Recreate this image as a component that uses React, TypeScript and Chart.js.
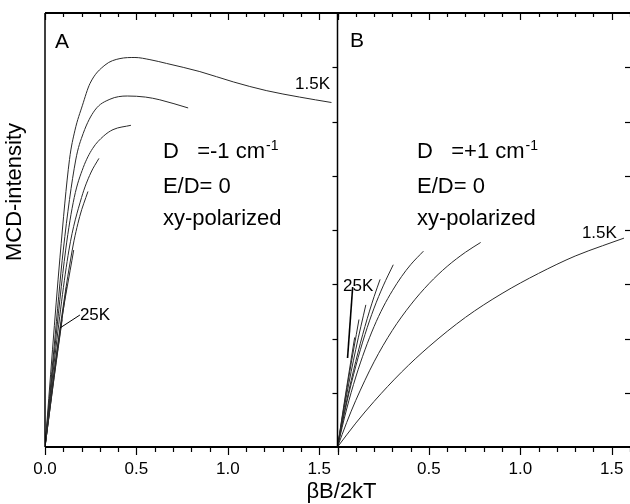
import React, { useEffect, useRef } from "react";
import { Chart, registerables } from "chart.js";

Chart.register(...registerables);

// ---- Panel A (D = -1 cm-1), [βB/2kT, MCD] ----
const curveA_1p5K: [number, number][] = [[0,0],[0.082,3.5],[0.134,5.3],[0.164,5.84],[0.205,6.3],[0.246,6.7],[0.328,7.04],[0.41,7.16],[0.492,7.18],[0.574,7.14],[0.665,7.07],[0.847,6.92],[1.03,6.73],[1.21,6.57],[1.393,6.45],[1.567,6.35]];
const curveA_3K: [number, number][] = [[0,0],[0.05,1.85],[0.1,3.63],[0.168,5.29],[0.209,5.78],[0.273,6.21],[0.355,6.41],[0.45,6.47],[0.55,6.45],[0.628,6.4],[0.783,6.25]];
const curveA_5K: [number, number][] = [[0,0],[0.05,1.7],[0.113,3.63],[0.16,4.6],[0.209,5.15],[0.26,5.5],[0.32,5.73],[0.372,5.85],[0.47,5.93]];
const curveA_8K: [number, number][] = [[0,0],[0.05,1.55],[0.131,3.63],[0.2,4.6],[0.25,5.05],[0.295,5.32]];
const curveA_10K: [number, number][] = [[0,0],[0.05,1.4],[0.149,3.63],[0.19,4.25],[0.235,4.71]];
const curveA_15K: [number, number][] = [[0,0],[0.08,2.1],[0.157,3.63]];
const curveA_20K: [number, number][] = [[0,0],[0.06,1.55],[0.1175,2.95]];
const curveA_25K: [number, number][] = [[0,0],[0.05,1.28],[0.094,2.35]];

// ---- Panel B (D = +1 cm-1) ----
const curveB_1p5K: [number, number][] = [[0,0],[0.1,0.44],[0.2,0.84],[0.35,1.38],[0.5,1.85],[0.7,2.39],[0.9,2.83],[1.1,3.2],[1.3,3.52],[1.45,3.71],[1.567,3.85]];
const curveB_3K: [number, number][] = [[0,0],[0.05,0.45],[0.1,0.86],[0.2,1.57],[0.3,2.15],[0.4,2.62],[0.5,3.01],[0.6,3.33],[0.7,3.59],[0.783,3.77]];
const curveB_5K: [number, number][] = [[0,0],[0.05,0.7],[0.1,1.29],[0.15,1.79],[0.2,2.22],[0.25,2.58],[0.3,2.88],[0.35,3.14],[0.4,3.36],[0.47,3.61]];
const curveB_8K: [number, number][] = [[0,0],[0.05,0.81],[0.1,1.49],[0.15,2.07],[0.2,2.56],[0.25,2.97],[0.305,3.36]];
const curveB_10K: [number, number][] = [[0,0],[0.05,0.85],[0.1,1.58],[0.15,2.22],[0.2,2.77],[0.233,3.09]];
const curveB_15K: [number, number][] = [[0,0],[0.05,0.96],[0.1,1.8],[0.155,2.62]];
const curveB_20K: [number, number][] = [[0,0],[0.06,1.25],[0.1175,2.35]];
const curveB_25K: [number, number][] = [[0,0],[0.05,1.1],[0.094,2.02]];

// ---- axes ----
const panelMax = 1.6;
const yMax = 8;
const majorTicks = [0, 0.5, 1.0, 1.5];
const tickLabelsA = ["0.0", "0.5", "1.0", "1.5"];
const tickLabelsB = ["", "0.5", "1.0", "1.5"];
const yTickValues = [1, 2, 3, 4, 5, 6, 7];

const FONT = '"Liberation Sans", Arial, sans-serif';

export default function App() {
  const ref = useRef<HTMLCanvasElement>(null);

  useEffect(() => {
    document.body.style.margin = "0";
    const canvas = ref.current!;
    const mk = (pts: [number, number][], axis: string) => ({
      data: pts.map(([x, y]) => ({ x, y })),
      xAxisID: axis,
      yAxisID: "y",
      borderColor: "#2a2a2a",
      borderWidth: 1,
      pointRadius: 0,
      fill: false,
      cubicInterpolationMode: "monotone" as const,
    });

    const frame = {
      id: "frame",
      afterDatasetsDraw(chart: any) {
        const ctx: CanvasRenderingContext2D = chart.ctx;
        const xa = chart.scales.xA;
        const xb = chart.scales.xB;
        const ys = chart.scales.y;
        const { left, right, top, bottom } = chart.chartArea;
        const mid = xa.getPixelForValue(panelMax);
        const line = (x1: number, y1: number, x2: number, y2: number) => {
          ctx.beginPath();
          ctx.moveTo(x1, y1);
          ctx.lineTo(x2, y2);
          ctx.stroke();
        };
        const text = (s: string, x: number, y: number, size: number, align: CanvasTextAlign = "left") => {
          ctx.font = `${size}px ${FONT}`;
          ctx.textAlign = align;
          ctx.textBaseline = "alphabetic";
          ctx.fillText(s, x, y);
          return ctx.measureText(s).width;
        };
        ctx.save();
        ctx.strokeStyle = "#000";
        ctx.fillStyle = "#000";
        ctx.lineWidth = 2;
        line(left, top, right, top);
        line(left, bottom, right, bottom);
        ctx.lineWidth = 1.5;
        line(left, top, left, bottom);
        line(mid, top, mid, bottom);

        // x ticks
        ctx.lineWidth = 1.2;
        [xa, xb].forEach((s: any) => {
          for (let i = 0; i <= 16; i++) {
            const v = i / 10;
            const px = Math.round(s.getPixelForValue(v)) + 0.5;
            const major = i % 5 === 0;
            line(px, bottom, px, bottom + (major ? 8 : 5));
            line(px, top, px, top + (major ? 7 : 4));
          }
        });
        // y ticks (inward on right side of each panel)
        yTickValues.forEach((v) => {
          const py = Math.round(ys.getPixelForValue(v)) + 0.5;
          line(mid - 5, py, mid, py);
          line(right - 5, py, right, py);
        });

        // tick labels
        const tickY = bottom + 27;
        majorTicks.forEach((v, i) => {
          if (tickLabelsA[i]) text(tickLabelsA[i], xa.getPixelForValue(v), tickY, 17, "center");
          if (tickLabelsB[i]) text(tickLabelsB[i], xb.getPixelForValue(v), tickY, 17, "center");
        });

        // axis titles
        text("\u03b2B/2kT", xa.getPixelForValue(panelMax) + 4, 498, 22, "center");
        ctx.save();
        ctx.translate(21, 192);
        ctx.rotate(-Math.PI / 2);
        text("MCD-intensity", 0, 0, 22, "center");
        ctx.restore();

        // panel letters
        text("A", xa.getPixelForValue(0.055), ys.getPixelForValue(7.355), 21);
        text("B", xb.getPixelForValue(0.068), ys.getPixelForValue(7.373), 21);

        // parameter blocks
        const block = (s: any, x0: number, sign: string) => {
          const px = s.getPixelForValue(x0);
          const w = text(`D   =${sign}1 cm`, px, ys.getPixelForValue(5.327), 22);
          text("-1", px + w + 1, ys.getPixelForValue(5.327) - 8, 14);
          text("E/D= 0", px, ys.getPixelForValue(4.682), 22);
          text("xy-polarized", px, ys.getPixelForValue(4.092), 22);
        };
        block(xa, 0.645, "-");
        block(xb, 0.435, "+");

        // curve labels
        text("1.5K", xa.getPixelForValue(1.368), ys.getPixelForValue(6.599), 17);
        text("1.5K", xb.getPixelForValue(1.337), ys.getPixelForValue(3.852), 17);
        text("25K", xa.getPixelForValue(0.191), ys.getPixelForValue(2.341), 17);
        text("25K", xb.getPixelForValue(0.03), ys.getPixelForValue(2.876), 17);
        ctx.lineWidth = 1;
        line(xa.getPixelForValue(0.082), ys.getPixelForValue(2.194), xa.getPixelForValue(0.191), ys.getPixelForValue(2.433));
        ctx.lineWidth = 1.6;
        line(xb.getPixelForValue(0.083), ys.getPixelForValue(2.949), xb.getPixelForValue(0.055), ys.getPixelForValue(1.64));
        ctx.restore();
      },
    };

    const chart = new Chart(canvas, {
      type: "line",
      data: {
        datasets: [
          mk(curveA_1p5K, "xA"), mk(curveA_3K, "xA"), mk(curveA_5K, "xA"), mk(curveA_8K, "xA"),
          mk(curveA_10K, "xA"), mk(curveA_15K, "xA"), mk(curveA_20K, "xA"), mk(curveA_25K, "xA"),
          mk(curveB_1p5K, "xB"), mk(curveB_3K, "xB"), mk(curveB_5K, "xB"), mk(curveB_8K, "xB"),
          mk(curveB_10K, "xB"), mk(curveB_15K, "xB"), mk(curveB_20K, "xB"), mk(curveB_25K, "xB"),
        ] as any,
      },
      options: {
        animation: false,
        responsive: false,
        devicePixelRatio: 1,
        events: [],
        layout: { padding: { left: 45, right: 0, top: 13, bottom: 57 } },
        plugins: { legend: { display: false }, tooltip: { enabled: false } },
        scales: {
          xA: { type: "linear", min: 0, max: 2 * panelMax, display: false },
          xB: { type: "linear", min: -panelMax, max: panelMax, display: false },
          y: { type: "linear", min: 0, max: yMax, display: false },
        },
      } as any,
      plugins: [frame],
    });
    return () => chart.destroy();
  }, []);

  return <canvas ref={ref} width={630} height={504} style={{ display: "block" }} />;
}
